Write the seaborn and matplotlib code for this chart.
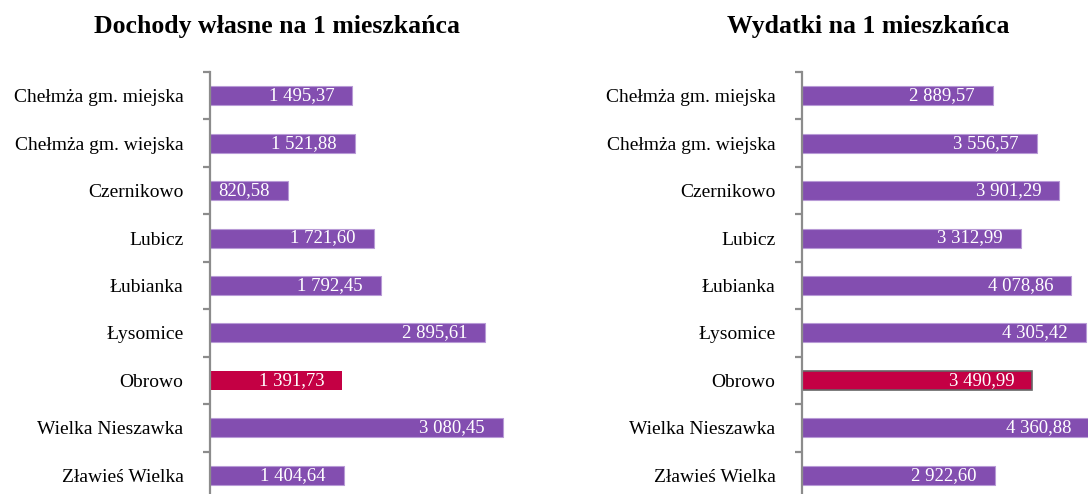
import matplotlib
matplotlib.use("Agg")
import matplotlib.pyplot as plt
import seaborn as sns
import pandas as pd

gminy = ["Chełmża gm. miejska", "Chełmża gm. wiejska", "Czernikowo", "Lubicz",
         "Łubianka", "Łysomice", "Obrowo", "Wielka Nieszawka", "Zławieś Wielka"]
dochody = [1495.37, 1521.88, 820.58, 1721.60, 1792.45, 2895.61, 1391.73, 3080.45, 1404.64]
wydatki = [2889.57, 3556.57, 3901.29, 3312.99, 4078.86, 4305.42, 3490.99, 4360.88, 2922.60]
wyrozniona = "Obrowo"

PURPLE = "#834EB0"
CRIMSON = "#C40044"

sns.set_style("white")
plt.rcParams["font.family"] = ["Liberation Serif", "DejaVu Serif"]
plt.rcParams["text.color"] = "black"
plt.rcParams["ytick.color"] = "#8C8C8C"
plt.rcParams["ytick.labelcolor"] = "black"


def fmt(v):
    s = f"{v:,.2f}"
    return s.replace(",", " ").replace(".", ",")


def panel(ax, values, xmax, red_edge):
    df = pd.DataFrame({"gmina": gminy, "val": values})
    palette = {g: (CRIMSON if g == wyrozniona else PURPLE) for g in gminy}
    sns.barplot(data=df, x="val", y="gmina", hue="gmina", palette=palette,
                legend=False, ax=ax, width=0.4, saturation=1, orient="h")
    for p, g in zip(ax.patches, gminy):
        if g == wyrozniona:
            p.set_edgecolor(red_edge)
            p.set_linewidth(1.2 if red_edge != CRIMSON else 0)
        else:
            p.set_edgecolor("#B89AD6")
            p.set_linewidth(0.8)
    for i, v in enumerate(values):
        ax.annotate(fmt(v), (v, i), xytext=(-13, 0), textcoords="offset points",
                    ha="right", va="center", color="white", fontsize=13.5)
    ax.set_xlim(0, xmax)
    ax.set_ylim(8.5, -0.5)
    ax.set_xlabel("")
    ax.set_ylabel("")
    ax.set_xticks([])
    for s in ["top", "right", "bottom"]:
        ax.spines[s].set_visible(False)
    ax.spines["left"].set_color("#8C8C8C")
    ax.spines["left"].set_linewidth(1.6)
    ax.set_yticks(range(len(gminy)))
    ax.set_yticklabels(gminy, fontsize=14)
    ax.set_yticks([i - 0.5 for i in range(len(gminy) + 1)], minor=True)
    ax.tick_params(axis="y", which="major", length=0, pad=19, labelcolor="black")
    ax.tick_params(axis="y", which="minor", left=True, length=5, width=1.6,
                   color="#8C8C8C", direction="out")
    ax.patch.set_alpha(0)


fig = plt.figure(figsize=(10.88, 4.94), dpi=100)
ax1 = fig.add_axes([210 / 1088, -5 / 494, 333 / 1088, 427 / 494])
ax2 = fig.add_axes([802 / 1088, -5 / 494, 330 / 1088, 427 / 494])

panel(ax1, dochody, 3500, CRIMSON)
panel(ax2, wydatki, 5000, "#666666")

fig.text(277 / 1088, 1 - 27 / 494, "Dochody własne na 1 mieszkańca",
         ha="center", va="center", fontsize=18.5, fontweight="bold")
fig.text(868 / 1088, 1 - 27 / 494, "Wydatki na 1 mieszkańca",
         ha="center", va="center", fontsize=18.5, fontweight="bold")

fig.savefig("out.png", dpi=100)
